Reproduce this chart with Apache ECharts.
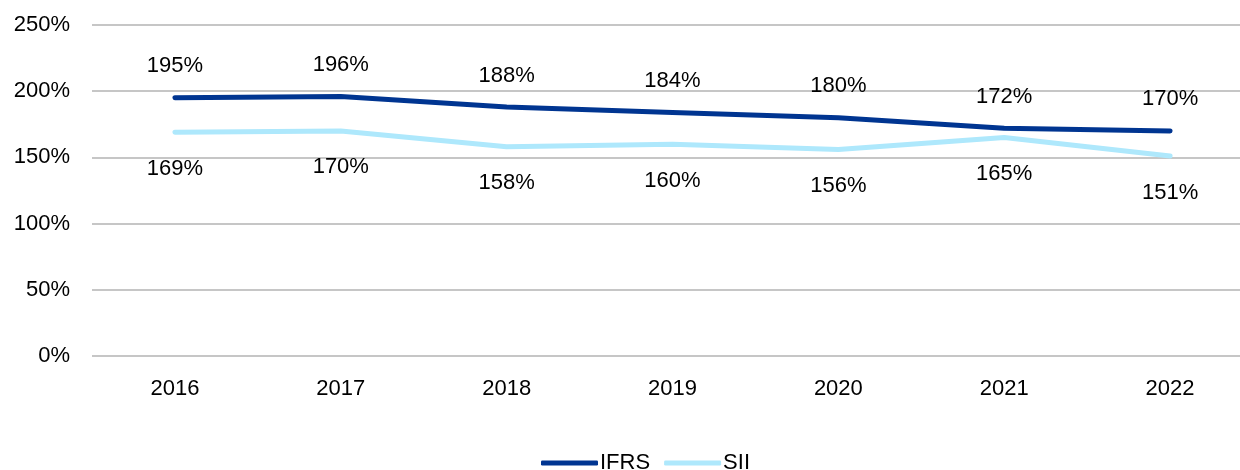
<!DOCTYPE html>
<html>
<head>
<meta charset="utf-8">
<style>
  html, body { margin: 0; padding: 0; background: #fff; }
  #chart { width: 1240px; height: 470px; }
</style>
<script src="https://cdn.jsdelivr.net/npm/echarts@6/dist/echarts.min.js"></script>
</head>
<body>
<div id="chart"></div>
<script>
// 数据
var years = ['2016', '2017', '2018', '2019', '2020', '2021', '2022'];
var ifrsValues = [195, 196, 188, 184, 180, 172, 170];
var siiValues = [169, 170, 158, 160, 156, 165, 151];
var yTicks = { min: 0, max: 250, interval: 50 };

var font = '"Liberation Sans", Arial, Helvetica, sans-serif';

var chart = echarts.init(document.getElementById('chart'));
chart.setOption({
  animation: false,
  textStyle: { fontFamily: font },
  // 右侧留负边距, 网格线延伸到画布外
  grid: { left: 92, top: 25, right: -13, height: 331, outerBoundsMode: 'none', containLabel: false },
  legend: {
    bottom: -9,
    left: 536,
    itemWidth: 57,
    itemHeight: 5,
    itemGap: 14,
    icon: 'roundRect',
    textStyle: { fontSize: 22, color: '#000', fontFamily: font, padding: [0, 0, 0, -3] },
    data: ['IFRS', 'SII']
  },
  xAxis: {
    type: 'category',
    data: years,
    axisLine: { show: false },
    axisTick: { show: false },
    axisLabel: { fontSize: 22, color: '#000', margin: 22, fontFamily: font }
  },
  yAxis: {
    type: 'value',
    min: yTicks.min,
    max: yTicks.max,
    interval: yTicks.interval,
    axisLine: { show: false },
    axisTick: { show: false },
    axisLabel: { fontSize: 22, color: '#000', margin: 22, fontFamily: font, formatter: '{value}%' },
    splitLine: { lineStyle: { color: '#b3b3b3', width: 1.5 } }
  },
  series: [
    {
      name: 'IFRS',
      type: 'line',
      data: ifrsValues,
      symbol: 'circle',
      symbolSize: 1,
      color: '#003591',
      lineStyle: { width: 5, color: '#003591', cap: 'round' },
      label: { show: true, position: 'top', distance: 20, fontSize: 22, color: '#000', fontFamily: font, formatter: '{c}%' }
    },
    {
      name: 'SII',
      type: 'line',
      data: siiValues,
      symbol: 'circle',
      symbolSize: 1,
      color: '#aee8fc',
      lineStyle: { width: 5, color: '#aee8fc', cap: 'round' },
      label: { show: true, position: 'bottom', distance: 25, fontSize: 22, color: '#000', fontFamily: font, formatter: '{c}%' }
    }
  ]
});
</script>
</body>
</html>
